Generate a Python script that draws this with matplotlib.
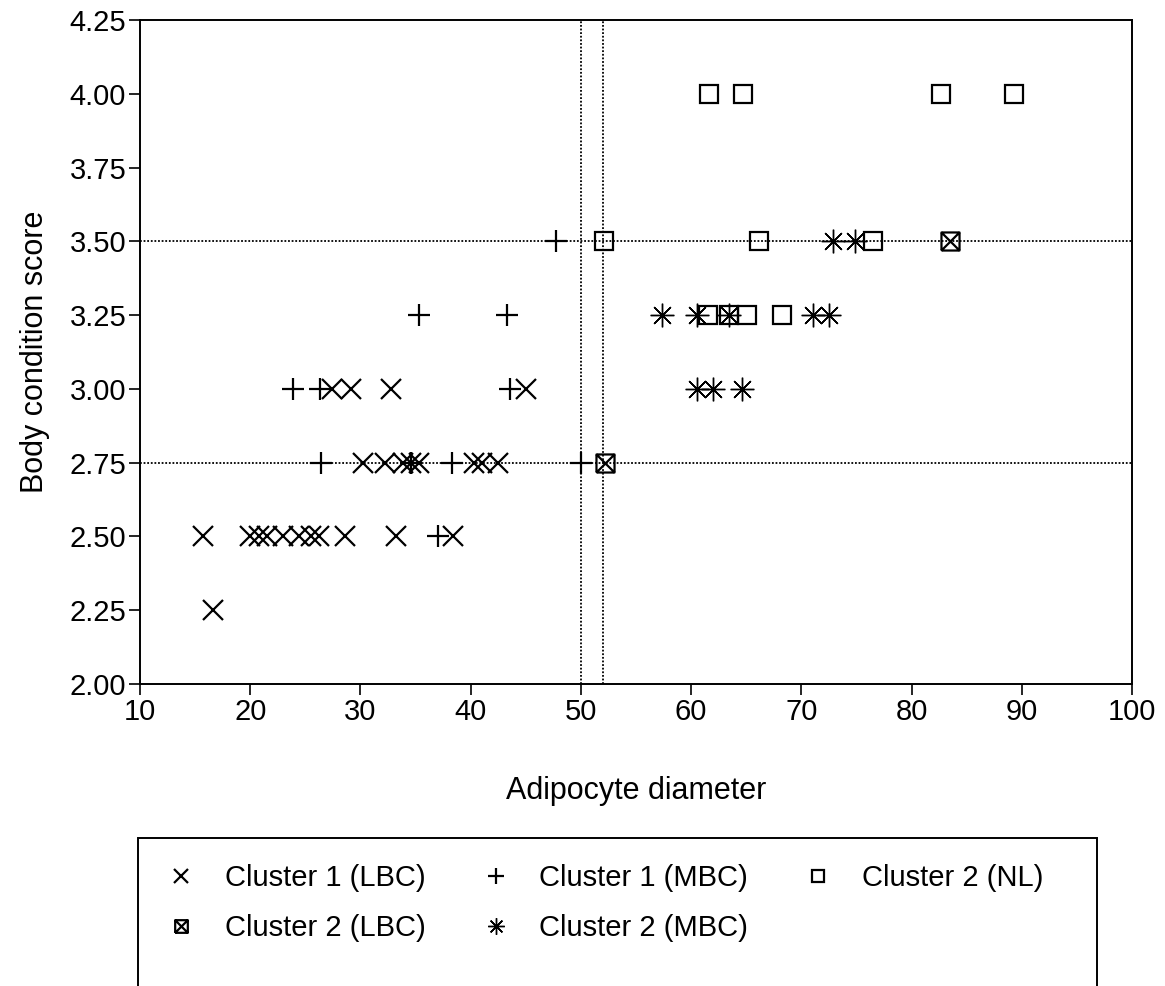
import numpy as np
import matplotlib
matplotlib.use("Agg")
import matplotlib.pyplot as plt
from matplotlib.path import Path
from matplotlib.patches import Rectangle

plt.rcParams['font.family'] = ['Liberation Sans Narrow', 'Liberation Sans', 'DejaVu Sans']

# Cluster 1 (LBC)  - x markers
c1_lbc_x = [15.7, 16.6, 20.0, 20.8, 21.5, 23.0, 24.4, 25.5, 26.2, 28.6, 33.2, 38.4,
            30.2, 32.2, 33.9, 34.6, 35.3, 40.3, 41.0, 42.5,
            27.4, 29.1, 32.8, 45.0]
c1_lbc_y = [2.50, 2.25, 2.50, 2.50, 2.50, 2.50, 2.50, 2.50, 2.50, 2.50, 2.50, 2.50,
            2.75, 2.75, 2.75, 2.75, 2.75, 2.75, 2.75, 2.75,
            3.00, 3.00, 3.00, 3.00]

# Cluster 1 (MBC)  - plus markers
c1_mbc_x = [37.0, 26.4, 34.6, 38.3, 50.0, 23.9, 26.3, 43.6, 35.3, 43.3, 47.7]
c1_mbc_y = [2.50, 2.75, 2.75, 2.75, 2.75, 3.00, 3.00, 3.00, 3.25, 3.25, 3.50]

# Cluster 2 (NL)  - squares
c2_nl_x = [61.5, 63.4, 65.1, 68.2, 52.1, 66.2, 76.5, 61.6, 64.7, 82.7, 89.3]
c2_nl_y = [3.25, 3.25, 3.25, 3.25, 3.50, 3.50, 3.50, 4.00, 4.00, 4.00, 4.00]

# Cluster 2 (LBC)  - crossed squares
c2_lbc_x = [52.2, 83.5]
c2_lbc_y = [2.75, 3.50]

# Cluster 2 (MBC)  - asterisks
c2_mbc_x = [60.5, 62.0, 64.6, 57.4, 60.5, 63.4, 71.1, 72.5, 72.9, 74.9]
c2_mbc_y = [3.00, 3.00, 3.00, 3.25, 3.25, 3.25, 3.25, 3.25, 3.50, 3.50]

ref_x = [50, 52]
ref_y = [2.75, 3.50]

xticks = [10, 20, 30, 40, 50, 60, 70, 80, 90, 100]
yticks = [2.00, 2.25, 2.50, 2.75, 3.00, 3.25, 3.50, 3.75, 4.00, 4.25]

# square with an X inside
boxx = Path([(-1, -1), (1, -1), (1, 1), (-1, 1), (-1, -1), (-1, -1), (1, 1), (1, -1), (-1, 1)],
            [Path.MOVETO, Path.LINETO, Path.LINETO, Path.LINETO, Path.LINETO,
             Path.MOVETO, Path.LINETO, Path.MOVETO, Path.LINETO])

fig = plt.figure(figsize=(11.65, 9.86), dpi=100)
ax = fig.add_axes([0.1202, 0.3063, 0.8515, 0.6734])

for v in ref_x:
    ax.axvline(v, color='black', lw=1.3, ls=(0, (1, 1)), zorder=1)
for v in ref_y:
    ax.axhline(v, color='black', lw=1.3, ls=(0, (1, 1)), zorder=1)

kw = dict(ls='none', color='black', mfc='none', mew=1.6)
ax.plot(c1_lbc_x, c1_lbc_y, marker='x', ms=15, label='Cluster 1 (LBC)', **kw)
ax.plot(c2_lbc_x, c2_lbc_y, marker=boxx, ms=13, label='Cluster 2 (LBC)', **kw)
ax.plot(c1_mbc_x, c1_mbc_y, marker='+', ms=16, label='Cluster 1 (MBC)', **kw)
ax.plot(c2_mbc_x, c2_mbc_y, marker=(8, 2, 0), ms=17, label='Cluster 2 (MBC)',
        ls='none', color='black', mew=1.0)
ax.plot(c2_nl_x, c2_nl_y, marker='s', ms=13, label='Cluster 2 (NL)', **kw)

ax.set_xlim(10, 100)
ax.set_ylim(2.0, 4.25)
ax.set_xticks(xticks)
ax.set_xticklabels([str(t) for t in xticks])
ax.set_yticks(yticks)
ax.set_yticklabels(['%.2f' % t for t in yticks])
ax.tick_params(direction='out', length=8, width=1.2, labelsize=21, pad=2)
for s in ax.spines.values():
    s.set_linewidth(1.4)

ax.set_xlabel('Adipocyte diameter', fontsize=22, labelpad=36)
ax.set_ylabel('Body condition score', fontsize=22, labelpad=14)

leg = fig.legend(loc='upper left', bbox_to_anchor=(0.118, 0.150), ncol=3, frameon=False,
                 fontsize=21, markerscale=0.7, handlelength=1.2, handletextpad=0.9,
                 columnspacing=1.8, labelspacing=0.75)

fig.patches.append(Rectangle((138 / 1165, -0.05), (1097 - 138) / 1165, 0.05 + (986 - 838) / 986,
                             transform=fig.transFigure, fill=False, ec='black', lw=1.4))

fig.savefig('out.png', dpi=100)
